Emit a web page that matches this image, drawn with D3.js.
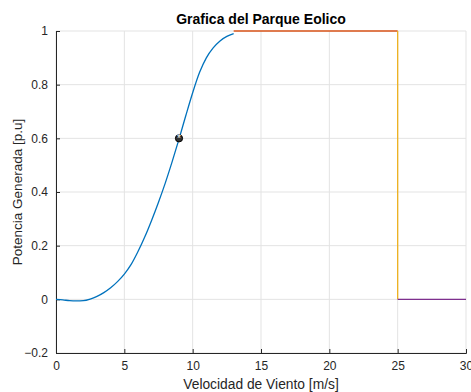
<!DOCTYPE html>
<html>
<head>
<meta charset="utf-8">
<script src="https://cdn.jsdelivr.net/npm/d3@7"></script>
<style>
  body { margin: 0; background: #fff; }
  text { font-family: "Liberation Sans", Arial, sans-serif; fill: #262626; }
</style>
</head>
<body>
<div id="chart"></div>
<script>
// curva de potencia (tramo ascendente)
const vel = [0, 0.5, 1, 1.5, 2, 2.5, 3, 3.5, 4, 4.5, 5, 5.5, 6, 6.5, 7, 7.5, 8, 8.5, 9, 9.5, 10, 10.5, 11, 11.5, 12, 12.5, 13];
const pot = [0, -0.002, -0.005, -0.006, -0.005, 0.001, 0.011, 0.025, 0.043, 0.066, 0.094, 0.13, 0.178, 0.233, 0.295, 0.362, 0.434, 0.513, 0.597, 0.685, 0.77, 0.845, 0.9, 0.937, 0.963, 0.98, 0.99];
// tramo nominal, corte y apagado
const nominalX = [13, 25], nominalY = [1, 1];
const corteX = [25, 25], corteY = [1, 0];
const apagadoX = [25, 30], apagadoY = [0, 0];
const punto = [9, 0.6];
const xTicks = [0, 5, 10, 15, 20, 25, 30];
const yTicks = [-0.2, 0, 0.2, 0.4, 0.6, 0.8, 1];

const width = 471, height = 392;
const margin = {top: 31, right: 5, bottom: 39, left: 56};

const svg = d3.select("#chart").append("svg")
    .attr("width", width)
    .attr("height", height);

const x = d3.scaleLinear().domain([0, 30]).range([margin.left, width - margin.right]);
const y = d3.scaleLinear().domain([-0.2, 1]).range([height - margin.bottom, margin.top]);

// grid
svg.append("g").selectAll("line")
    .data(xTicks).enter().append("line")
    .attr("x1", d => x(d)).attr("x2", d => x(d))
    .attr("y1", y(-0.2)).attr("y2", y(1))
    .attr("stroke", "#e3e3e3").attr("stroke-width", 1);
svg.append("g").selectAll("line")
    .data(yTicks).enter().append("line")
    .attr("x1", x(0)).attr("x2", x(30))
    .attr("y1", d => y(d)).attr("y2", d => y(d))
    .attr("stroke", "#e3e3e3").attr("stroke-width", 1);

// axes
const xAxis = svg.append("g")
    .attr("transform", `translate(0,${y(-0.2)})`)
    .call(d3.axisBottom(x).tickValues(xTicks).tickSize(-4).tickPadding(8).tickFormat(d3.format("d")));
const yAxis = svg.append("g")
    .attr("transform", `translate(${x(0)},0)`)
    .call(d3.axisLeft(y).tickValues(yTicks).tickSize(-4).tickPadding(8).tickFormat(d => d === 0 || d === 1 ? d3.format("d")(d) : d3.format(".1f")(d)));
[xAxis, yAxis].forEach(a => {
  a.select(".domain").attr("stroke", "#262626");
  a.selectAll(".tick line").attr("stroke", "#262626");
  a.selectAll(".tick text").attr("font-size", 12).attr("fill", "#262626")
    .attr("font-family", '"Liberation Sans", Arial, sans-serif');
});

const line = d3.line().curve(d3.curveMonotoneX).x(d => x(d[0])).y(d => y(d[1]));
const series = [
  {xs: vel, ys: pot, color: "#0072BD"},
  {xs: nominalX, ys: nominalY, color: "#D95319"},
  {xs: corteX, ys: corteY, color: "#EDB120"},
  {xs: apagadoX, ys: apagadoY, color: "#7E2F8E"}
];
series.forEach(s => {
  svg.append("path")
    .datum(s.xs.map((v, i) => [v, s.ys[i]]))
    .attr("d", s.xs[0] === s.xs[1] ? d3.line().x(d => x(d[0])).y(d => y(d[1])) : line)
    .attr("fill", "none")
    .attr("stroke", s.color)
    .attr("stroke-width", 1.3);
});

// punto de operacion
const px = x(punto[0]), py = y(punto[1]);
svg.append("circle").attr("cx", px).attr("cy", py).attr("r", 3.6)
    .attr("fill", "#333").attr("stroke", "#000").attr("stroke-width", 1);
svg.append("text").attr("x", px).attr("y", py + 4)
    .attr("text-anchor", "middle").attr("font-size", 10)
    .style("fill", "#fff").text("*");

// textos
svg.append("text").attr("x", (x(0) + x(30)) / 2).attr("y", 24)
    .attr("text-anchor", "middle").attr("font-size", 14).attr("font-weight", "bold")
    .style("fill", "#000").text("Grafica del Parque Eolico");
svg.append("text").attr("x", (x(0) + x(30)) / 2).attr("y", 389)
    .attr("text-anchor", "middle").attr("font-size", 13.8)
    .text("Velocidad de Viento [m/s]");
svg.append("text")
    .attr("transform", `translate(22,${(y(-0.2) + y(1)) / 2}) rotate(-90)`)
    .attr("text-anchor", "middle").attr("font-size", 13.5)
    .text("Potencia Generada [p.u]");
</script>
</body>
</html>
